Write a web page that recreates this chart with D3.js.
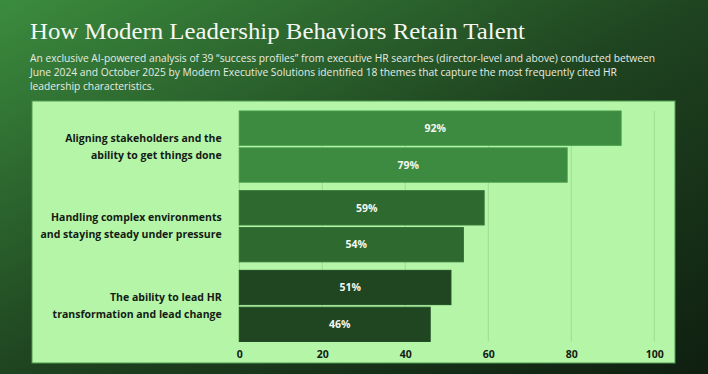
<!DOCTYPE html>
<html>
<head>
<meta charset="utf-8">
<script src="https://cdn.jsdelivr.net/npm/d3@7"></script>
<style>
  body { margin: 0; background: #1b3a1c; }
  svg { display: block; }
</style>
</head>
<body>
<div id="chart"></div>
<script>
// chart data
const themes = [
  ["Aligning stakeholders and the", "ability to get things done"],
  ["Handling complex environments", "and staying steady under pressure"],
  ["The ability to lead HR", "transformation and lead change"]
];
const firstBar = [92, 59, 51];
const secondBar = [79, 54, 46];
const xTicks = [0, 20, 40, 60, 80, 100];
const groupColors = ["#3d8b40", "#2e6a30", "#1f4621"];

const title = "How Modern Leadership Behaviors Retain Talent";
const subtitle = [
  "An exclusive AI-powered analysis of 39 \u201csuccess profiles\u201d from executive HR searches (director-level and above) conducted between",
  "June 2024 and October 2025 by Modern Executive Solutions identified 18 themes that capture the most frequently cited HR",
  "leadership characteristics."
];

const W = 708, H = 374;
const panel = {x: 32, y: 101, w: 643, h: 262};
const margin = {top: 111, left: 239.3, right: 708 - 654.3, bottom: 374 - 341.5};

const svg = d3.select("#chart").append("svg")
  .attr("width", W)
  .attr("height", H);

// background gradient
const defs = svg.append("defs");
const grad = defs.append("linearGradient")
  .attr("id", "bg")
  .attr("x1", 0).attr("y1", 0).attr("x2", 1).attr("y2", 1);
grad.append("stop").attr("offset", "0%").attr("stop-color", "#3b8c3e");
grad.append("stop").attr("offset", "50%").attr("stop-color", "#1f4420");
grad.append("stop").attr("offset", "100%").attr("stop-color", "#0f1f10");

svg.append("rect")
  .attr("width", W).attr("height", H)
  .attr("fill", "url(#bg)");

// heading
svg.append("text")
  .attr("x", 30).attr("y", 38.5)
  .attr("fill", "#f4f7f2")
  .style("font-family", "'Liberation Serif', 'DejaVu Serif', serif")
  .style("font-size", "23px")
  .attr("textLength", 495)
  .attr("lengthAdjust", "spacingAndGlyphs")
  .text(title);

svg.append("g").selectAll("text")
  .data(subtitle)
  .join("text")
  .attr("x", 30)
  .attr("y", (d, i) => 61.5 + i * 14.2)
  .attr("fill", "#e6ece4")
  .style("font-family", "'Open Sans', sans-serif")
  .style("font-size", "10.25px")
  .text(d => d);

// light panel
svg.append("rect")
  .attr("x", panel.x).attr("y", panel.y)
  .attr("width", panel.w).attr("height", panel.h)
  .attr("fill", "#b5f5a8")
  .attr("stroke", "#4f9a50")
  .attr("stroke-width", 1);

let x = d3.scaleLinear()
  .domain([0, 100])
  .range([margin.left, W - margin.right]);

let y = d3.scaleBand()
  .domain(d3.range(themes.length))
  .range([margin.top, H - margin.bottom])
  .paddingInner(0.107);

let ySub = d3.scaleBand()
  .domain([0, 1])
  .range([0, y.bandwidth()])
  .paddingInner(0.07);

// gridlines
svg.append("g").selectAll("line")
  .data(xTicks)
  .join("line")
  .attr("x1", d => x(d)).attr("x2", d => x(d))
  .attr("y1", margin.top).attr("y2", H - margin.bottom)
  .attr("stroke", "#9fdc93")
  .attr("stroke-width", 1);

// bars
let rows = [];
themes.forEach((t, i) => {
  rows.push({g: i, s: 0, v: firstBar[i]});
  rows.push({g: i, s: 1, v: secondBar[i]});
});

let bars = svg.append("g").selectAll("g")
  .data(rows)
  .join("g");

bars.append("rect")
  .attr("x", x(0))
  .attr("y", d => y(d.g) + ySub(d.s))
  .attr("width", d => x(d.v) - x(0))
  .attr("height", ySub.bandwidth())
  .attr("fill", d => groupColors[d.g])
  .attr("stroke", d => d3.color(groupColors[d.g]).brighter(0.25))
  .attr("stroke-width", 1);

bars.append("text")
  .attr("x", d => x(d.v / 2) + 5)
  .attr("y", d => y(d.g) + ySub(d.s) + ySub.bandwidth() / 2)
  .attr("dy", "0.36em")
  .attr("text-anchor", "middle")
  .attr("fill", "#f3f7f1")
  .style("font-family", "'Open Sans', sans-serif")
  .style("font-weight", "700")
  .style("font-size", "10.5px")
  .text(d => d.v + "%");

// category labels
let labels = svg.append("g").selectAll("text")
  .data(themes)
  .join("text")
  .attr("text-anchor", "end")
  .attr("fill", "#141a14")
  .style("font-family", "'Open Sans', sans-serif")
  .style("font-weight", "700")
  .style("font-size", "10.5px");

labels.selectAll("tspan")
  .data((d, i) => d.map((line, j) => ({line, j, g: i})))
  .join("tspan")
  .attr("x", 221.7)
  .attr("y", d => y(d.g) + y.bandwidth() / 2 + (d.j - 0.5) * 17)
  .attr("dy", "0.35em")
  .text(d => d.line);

// x axis
let xAxis = svg.append("g")
  .attr("transform", `translate(0, ${H - margin.bottom + 9})`)
  .call(d3.axisBottom(x).tickValues(xTicks).tickSize(0).tickPadding(0));

xAxis.select(".domain").remove();
xAxis.selectAll("text")
  .attr("fill", "#141a14")
  .attr("dy", "0.71em")
  .style("font-family", "'Open Sans', sans-serif")
  .style("font-weight", "700")
  .style("font-size", "10.5px");
</script>
</body>
</html>
